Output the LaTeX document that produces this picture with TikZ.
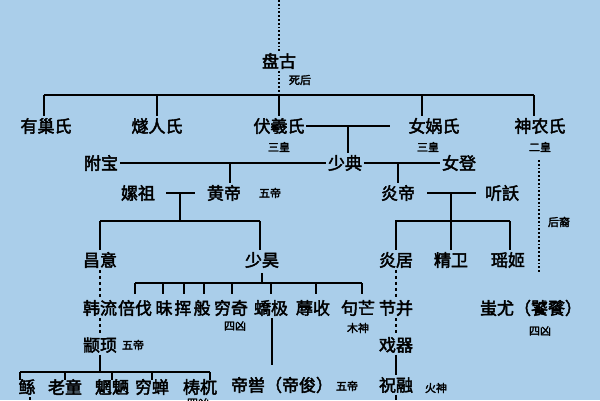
\documentclass[tikz,border=0pt]{standalone}
\usepackage{fontspec}
\newfontfamily\cjk[FakeBold=2.5]{Noto Sans CJK SC}
\begin{document}
\begin{tikzpicture}[x=1pt,y=-1pt,line width=1.8pt,
  nm/.style={font=\cjk\fontsize{17}{17}\selectfont,inner sep=1pt},
  sm/.style={font=\cjk\fontsize{11}{11}\selectfont,inner sep=0pt},
  dot/.style={dotted,line width=1.8pt}]
\fill[fill={rgb,255:red,170;green,206;blue,234}] (0,0) rectangle (600,400);
\useasboundingbox (0,0) rectangle (600,400);
% generation 1
\node[nm] (pg) at (279,61) {盘古};
\coordinate (top) at (279,0);
\draw[dot] (top) -- (pg.north);
\draw[dot] (pg.south) -- (279,95);
\node[sm] (sh) at (300,80) {死后};
\draw (44,95) -- (534,95);
\node[nm] (ych) at (46,126) {有巢氏};
\node[nm] (srs) at (157,126) {燧人氏};
\node[nm] (fx) at (279,126) {伏羲氏};
\node[nm] (nw) at (434,126) {女娲氏};
\node[nm] (sn) at (540,126) {神农氏};
\foreach \x/\n in {44/ych,157/srs,279/fx,422/nw,534/sn}
  \draw (\x,95) -- ({\x,95} |- \n.north);
\node[sm] at (279,147) {三皇};
\node[sm] at (428,147) {三皇};
\node[sm] (eh) at (540,147) {二皇};
% 少典
\draw (fx.east) -- (390,126);
\node[nm] (sd) at (345,163) {少典};
\draw (348,126) -- (348,126 |- sd.north);
\node[nm] (fb) at (101,163) {附宝};
\node[nm] (nd) at (459,163) {女登};
\draw (fb.east) -- (sd.west);
\draw (sd.east) -- (nd.west);
\node[nm] (hd) at (224,193) {黄帝};
\node[sm] at (270,193) {五帝};
\node[nm] (lz) at (138,193) {嫘祖};
\draw (230,163) -- (230,183);
\draw (166,193) -- (195,193) (180,193) -- (180,221);
\node[nm] (yd) at (398,193) {炎帝};
\node[nm] (ty) at (502,193) {听訞};
\draw (398,163) -- (yd.north);
\draw (427,193) -- (476,193) (451,193) -- (451,221);
% 黄帝之后
\draw (100,221) -- (260,221);
\node[nm] (cy) at (100,260) {昌意};
\node[nm] (sh2) at (262,260) {少昊};
\draw (100,221) -- (cy.north);
\draw (260,221) -- (260,221 |- sh2.north);
\draw (395,221) -- (510,221);
\node[nm] (yj) at (396,260) {炎居};
\node[nm] (jw) at (451,260) {精卫};
\node[nm] (yaoj) at (508,260) {瑶姬};
\foreach \x/\n in {396/yj,451/jw,510/yaoj}
  \draw (\x,221) -- ({\x,221} |- \n.north);
\draw[dot] (539,160) -- (539,272);
\node[sm] at (559,222) {后裔};
\node[nm] (cyou) at (531,308) {蚩尤（饕餮）};
\node[sm] at (540,331) {四凶};
% 少昊之后
\draw (262,273) -- (262,283);
\draw (135,283) -- (362,283);
\foreach \x in {135,163,184,204,232,271,316,362}
  \draw (\x,283) -- (\x,294);
\node[nm] (hl) at (100,308) {韩流};
\node[nm] (bf) at (135,308) {倍伐};
\node[nm] (mei) at (164,308) {昧};
\node[nm] (hui) at (183,308) {挥};
\node[nm] (ban) at (202,308) {般};
\node[nm] (qq) at (231,308) {穷奇};
\node[nm] (jj) at (271,308) {蟜极};
\node[nm] (rs) at (313,308) {蓐收};
\node[nm] (gm) at (358,308) {句芒};
\node[nm] (jb) at (396,308) {节并};
\node[sm] at (235,326) {四凶};
\node[sm] at (358,328) {木神};
\draw[dashed] (cy.south) -- (hl.north);
\draw[dashed] (yj.south) -- (jb.north);
\node[nm] (zx) at (100,345) {颛顼};
\node[sm] at (133,345) {五帝};
\draw[dashed] (hl.south) -- (zx.north);
\node[nm] (xq) at (396,345) {戏器};
\draw[dashed] (jb.south) -- (xq.north);
\node[nm] (zr) at (396,385) {祝融};
\node[sm] at (436,388) {火神};
\draw (xq.south) -- (zr.north);
\draw (zr.south) -- (396,400);
\node[nm] (dk) at (282,385) {帝喾（帝俊）};
\node[sm] at (347,386) {五帝};
\draw (272,318) -- (272,365);
% 颛顼之后
\draw (zx.south) -- (100,372);
\draw (20,372) -- (210,372);
\node[nm] (gun) at (27,387) {鲧};
\node[nm] (lt) at (65,387) {老童};
\node[nm] (wl) at (112,387) {魍魉};
\node[nm] (qc) at (152,387) {穷蝉};
\node[nm] (tw) at (200,387) {梼杌};
\foreach \x in {20,65,112,152,210}
  \draw (\x,372) -- (\x,380);
\draw (30,397) -- (30,400);
\node[sm] at (198,403) {四凶};
\end{tikzpicture}
\end{document}
